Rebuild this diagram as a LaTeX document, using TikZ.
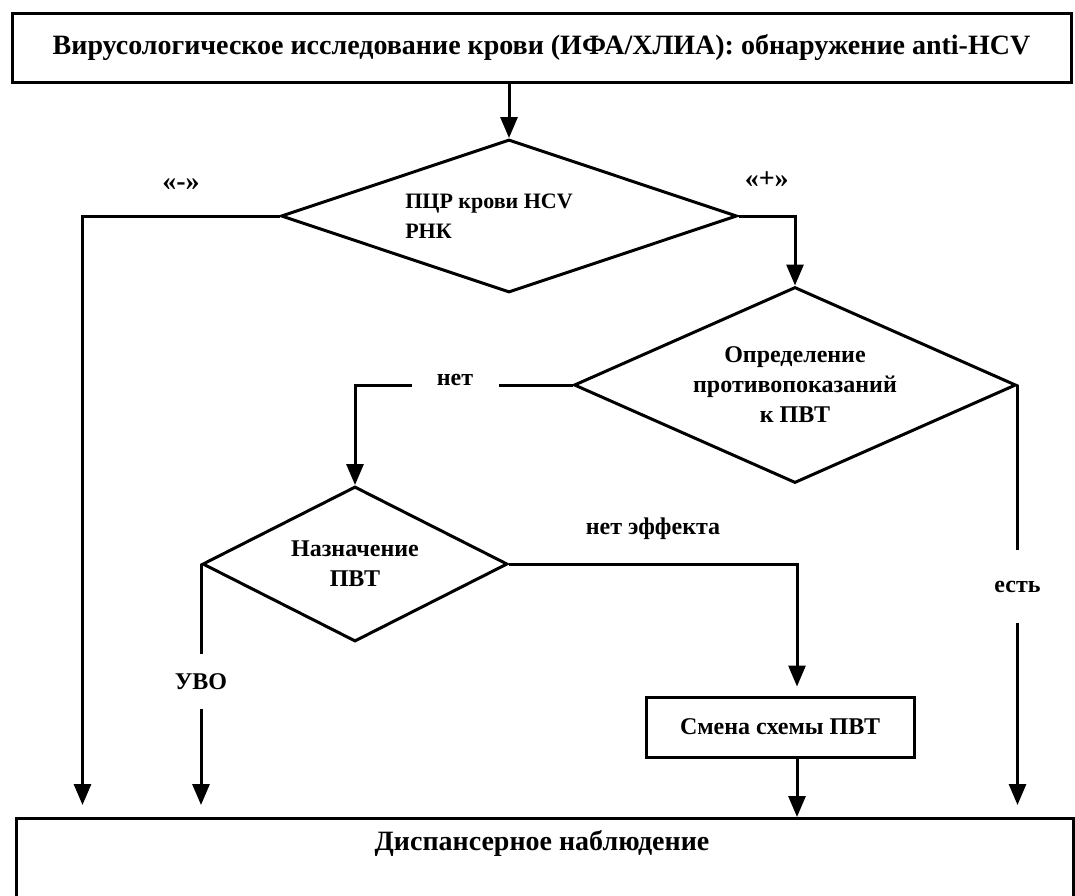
\documentclass[tikz,border=0pt]{standalone}
\usepackage{fontspec}
\setmainfont{Liberation Serif}
\usetikzlibrary{shapes.geometric,arrows.meta}

\begin{document}
\begin{tikzpicture}[x=1pt, y=-1pt,
  every node/.style = {font=\bfseries\fontsize{28}{30}\selectfont, align=center},
  smalltext/.style = {font=\bfseries\fontsize{24}{30}\selectfont},
  box/.style = {shape=rectangle, draw, line width=3pt, inner sep=0pt},
  dec/.style = {shape=diamond, draw, line width=3pt, inner sep=0pt, smalltext},
  lbl/.style = {fill=white, inner sep=0pt, smalltext},
  arr/.style = {line width=3pt, -{Triangle[length=21pt,width=17pt]}}]
  \useasboundingbox (0,0) rectangle (1075,895);
  \node[box, minimum width=1059, minimum height=69] (virus) at (541.5,47.5)
    {Вирусологическое исследование крови (ИФА/ХЛИА): обнаружение anti-HCV};
  \node[dec, aspect=2.98, minimum width=456, minimum height=153, align=left,
    font=\bfseries\fontsize{22}{30}\selectfont] (pcr) at (509,216)
    {ПЦР крови HCV\hspace*{40pt} \\ РНК};
  \node[dec, aspect=2.26, minimum width=442, minimum height=196] (contra) at (795,385)
    {Определение \\ противопоказаний \\ к ПВТ};
  \node[dec, aspect=1.97, minimum width=305, minimum height=155] (pvt) at (355,564)
    {Назначение \\ ПВТ};
  \node[box, smalltext, minimum width=268, minimum height=60] (change) at (780,727)
    {Смена схемы ПВТ};
  \node[box, minimum width=1057, minimum height=120, anchor=north] (disp) at (544.5,817) {};
  \node (disptext) at (542,843) {Диспансерное наблюдение};

  \draw[arr] (virus.south -| pcr.north) -- (pcr.north);
  \draw[arr, shorten >=12pt] (pcr.west) -| node[pos=0.25, yshift=31pt] {«-»}
    ([xshift=68pt]disp.north west);
  \draw[arr] (pcr.east) -| node[pos=0.25, yshift=36pt] {«+»} (contra.north);
  \draw[arr] (contra.west) -| node[lbl, pos=0.27, minimum width=87, minimum height=30,
    yshift=5pt] {нет} (pvt.north);
  \draw[arr, shorten >=12pt] (contra.east) -- node[lbl, pos=0.467, minimum height=73] {есть}
    (contra.east |- disp.north);
  \draw[arr, shorten >=12pt] (pvt.west) -- node[lbl, pos=0.466, minimum height=55] {УВО}
    (pvt.west |- disp.north);
  \draw[arr, shorten >=9pt] (pvt.east) -| node[smalltext, pos=0.25, yshift=35pt] {нет эффекта}
    ([xshift=17pt]change.north);
  \draw[arr] ([xshift=17pt]change.south) -- ([xshift=17pt]change.south |- disp.north);
\end{tikzpicture}
\end{document}
